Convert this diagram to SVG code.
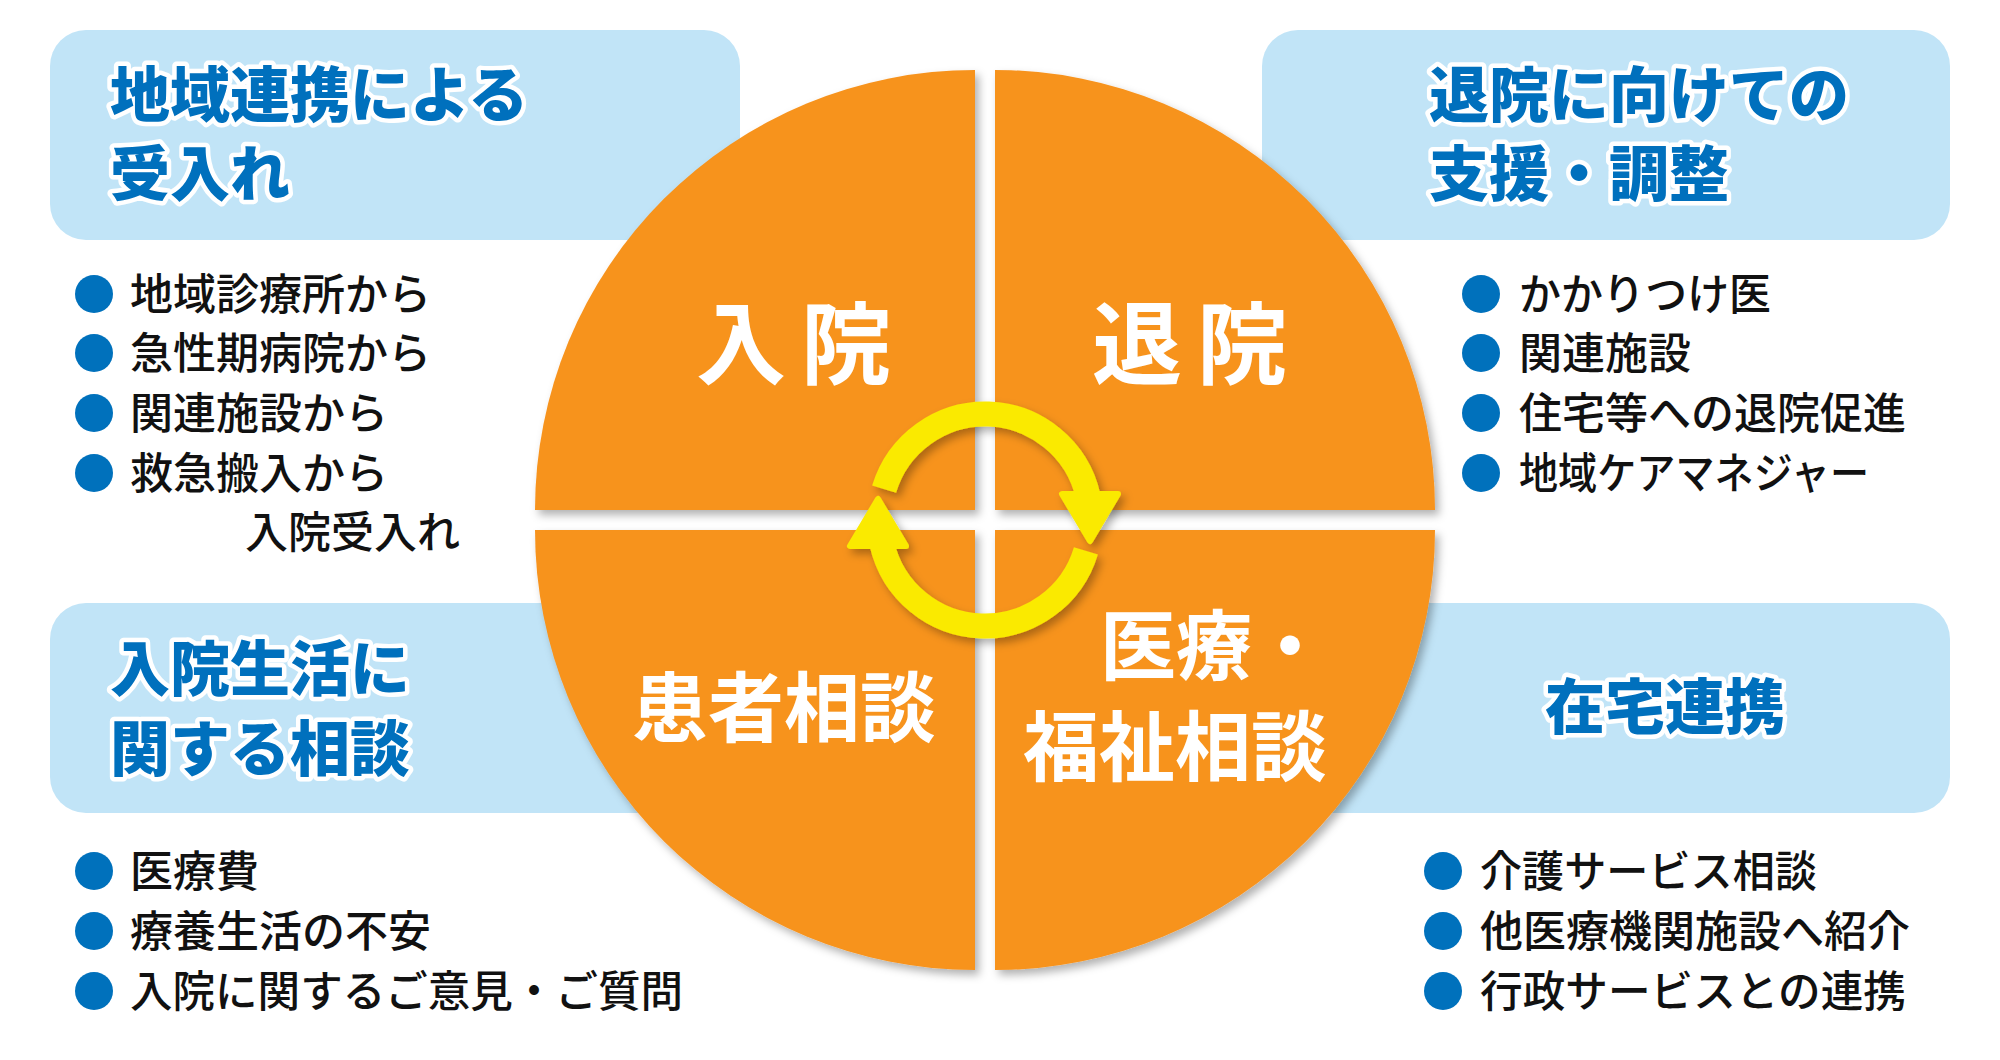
<svg xmlns="http://www.w3.org/2000/svg" width="2000" height="1060" viewBox="0 0 2000 1060">
<defs>
<style>
.box{fill:#C1E4F7}
.q{fill:#F7931E}
.hd{font-family:"Noto Sans CJK JP","Noto Sans",sans-serif;font-weight:900;font-size:60px;fill:#0070BD;stroke:#FFFFFF;stroke-width:9px;stroke-linejoin:round;paint-order:stroke}
.lb{font-family:"Noto Sans CJK JP","Noto Sans",sans-serif;font-weight:700;fill:#FFFFFF}
.li{font-family:"Noto Sans CJK JP","Noto Sans",sans-serif;font-weight:500;font-size:43px;fill:#111111}
.dot{fill:#0071BC}
.ring{fill:none;stroke:#FAEA00;stroke-width:25}
.ah{fill:#FAEA00;stroke:#FAEA00;stroke-width:6;stroke-linejoin:round}
</style>
<filter id="sh" x="-10%" y="-10%" width="130%" height="130%">
<feDropShadow dx="4" dy="5" stdDeviation="4" flood-color="#000000" flood-opacity="0.3"/>
</filter>
</defs>
<rect width="2000" height="1060" fill="#FFFFFF"/>

<g id="box-tl"><rect class="box" x="50" y="30" width="690" height="210" rx="36"/></g>
<g id="box-tr"><rect class="box" x="1262" y="30" width="688" height="210" rx="36"/></g>
<g id="box-bl"><rect class="box" x="50" y="603" width="700" height="210" rx="36"/></g>
<g id="box-br"><rect class="box" x="1230" y="603" width="720" height="210" rx="36"/></g>

<g id="pie" filter="url(#sh)">
<path id="q-nyuin" class="q" d="M975 510 L535 510 A440 440 0 0 1 975 70 Z"/>
<path id="q-taiin" class="q" d="M995 510 L995 70 A440 440 0 0 1 1435 510 Z"/>
<path id="q-kanja" class="q" d="M975 530 L975 970 A440 440 0 0 1 535 530 Z"/>
<path id="q-iryo" class="q" d="M995 530 L1435 530 A440 440 0 0 1 995 970 Z"/>
</g>

<g id="connectors" filter="url(#sh)">
<path class="ring" d="M884.1 489.2 A105.5 105.5 0 0 1 1088 496"/>
<polygon class="ah" points="1062,494 1118,494 1090,541"/>
<path class="ring" d="M1085.9 550.8 A105.5 105.5 0 0 1 882 544"/>
<polygon class="ah" points="850,546 906,546 878,499"/>
</g>

<g id="label-nyuin"><text class="lb" x="696" y="377" font-size="90" letter-spacing="15">入院</text></g>
<g id="label-taiin"><text class="lb" x="1092" y="377" font-size="90" letter-spacing="15">退院</text></g>
<g id="label-kanja"><text class="lb" x="784" y="736" font-size="76" text-anchor="middle">患者相談</text></g>
<g id="label-iryo"><text class="lb" x="1100" y="674" font-size="76">医療・</text><text class="lb" x="1175" y="775" font-size="76" text-anchor="middle">福祉相談</text></g>

<g id="head-tl"><text class="hd" x="110" y="117">地域連携による</text><text class="hd" x="110" y="196">受入れ</text></g>
<g id="head-tr"><text class="hd" x="1429" y="117">退院に向けての</text><text class="hd" x="1429" y="196">支援・調整</text></g>
<g id="head-bl"><text class="hd" x="110" y="691">入院生活に</text><text class="hd" x="110" y="771">関する相談</text></g>
<g id="head-br"><text class="hd" x="1665" y="729" text-anchor="middle">在宅連携</text></g>

<g id="list-tl">
<circle class="dot" cx="94" cy="294" r="19"/><text class="li" x="130" y="310">地域診療所から</text>
<circle class="dot" cx="94" cy="353" r="19"/><text class="li" x="130" y="369">急性期病院から</text>
<circle class="dot" cx="94" cy="413" r="19"/><text class="li" x="130" y="429">関連施設から</text>
<circle class="dot" cx="94" cy="473" r="19"/><text class="li" x="130" y="489">救急搬入から</text>
<text class="li" x="245" y="548">入院受入れ</text>
</g>
<g id="list-tr">
<circle class="dot" cx="1481" cy="294" r="19"/><text class="li" x="1519" y="310" textLength="252" lengthAdjust="spacingAndGlyphs">かかりつけ医</text>
<circle class="dot" cx="1481" cy="353" r="19"/><text class="li" x="1519" y="369">関連施設</text>
<circle class="dot" cx="1481" cy="413" r="19"/><text class="li" x="1519" y="429">住宅等への退院促進</text>
<circle class="dot" cx="1481" cy="473" r="19"/><text class="li" x="1519" y="489" textLength="350" lengthAdjust="spacingAndGlyphs">地域ケアマネジャー</text>
</g>
<g id="list-bl">
<circle class="dot" cx="94" cy="871" r="19"/><text class="li" x="130" y="887">医療費</text>
<circle class="dot" cx="94" cy="931" r="19"/><text class="li" x="130" y="947">療養生活の不安</text>
<circle class="dot" cx="94" cy="991" r="19"/><text class="li" x="130" y="1007" textLength="553" lengthAdjust="spacingAndGlyphs">入院に関するご意見・ご質問</text>
</g>
<g id="list-br">
<circle class="dot" cx="1443" cy="871" r="19"/><text class="li" x="1480" y="887" textLength="337" lengthAdjust="spacingAndGlyphs">介護サービス相談</text>
<circle class="dot" cx="1443" cy="931" r="19"/><text class="li" x="1480" y="947">他医療機関施設へ紹介</text>
<circle class="dot" cx="1443" cy="991" r="19"/><text class="li" x="1480" y="1007" textLength="426" lengthAdjust="spacingAndGlyphs">行政サービスとの連携</text>
</g>
</svg>
